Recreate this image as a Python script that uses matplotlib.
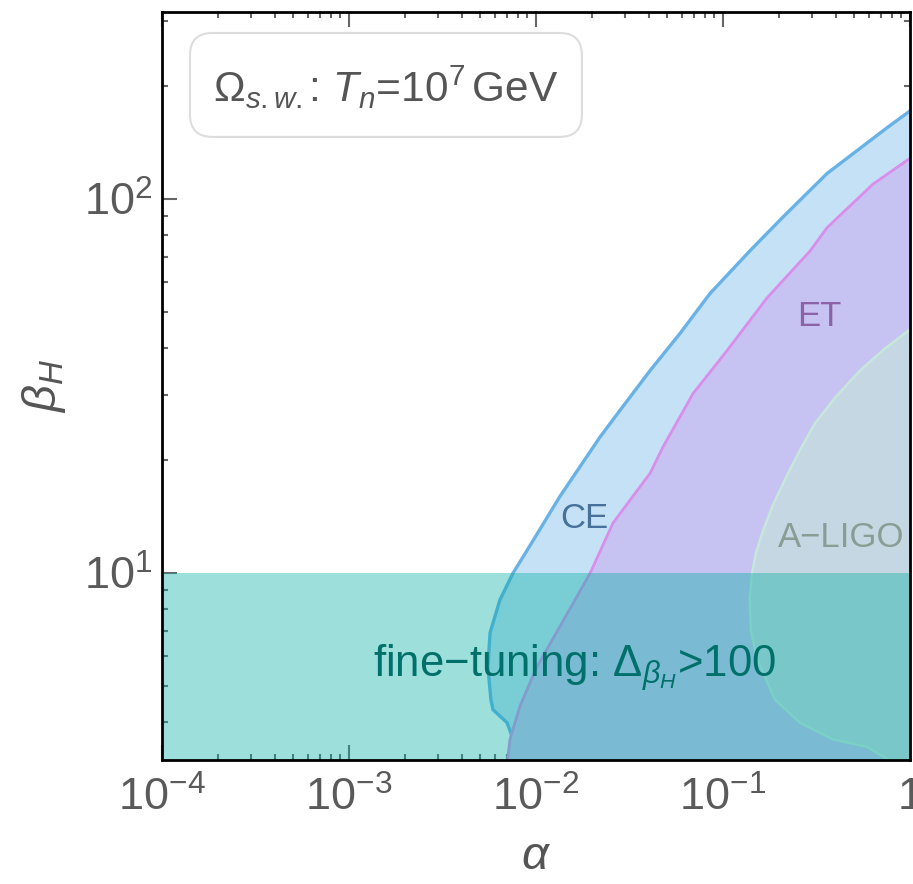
import matplotlib
matplotlib.use("Agg")
import matplotlib.pyplot as plt
from matplotlib.patches import FancyBboxPatch
from matplotlib.ticker import FixedLocator, FixedFormatter, LogLocator, NullFormatter

plt.rcParams['font.family'] = ['Liberation Sans', 'DejaVu Sans']
plt.rcParams['mathtext.fontset'] = 'custom'
plt.rcParams['mathtext.rm'] = 'Liberation Sans'
plt.rcParams['mathtext.it'] = 'Liberation Sans:italic'
plt.rcParams['mathtext.bf'] = 'Liberation Sans:bold'

# detector sensitivity boundaries (alpha, beta_H)
ce_alpha = [1.0, 0.753, 0.36, 0.207, 0.139, 0.085, 0.0589, 0.0408, 0.0281, 0.022,
            0.0134, 0.00964, 0.00754, 0.00641, 0.00568, 0.00553, 0.00574, 0.00589,
            0.0070, 0.00745, 0.00773, 0.0101, 0.0134, 0.0163]
ce_beta = [172, 155, 117, 89, 72.6, 55.8, 43.7, 34.8, 27.2, 23.1,
           16.0, 12.2, 10.0, 8.47, 6.92, 5.61, 4.58, 4.31,
           3.98, 3.66, 3.43, 3.37, 3.21, 3.07]

et_alpha = [1.0, 0.634, 0.36, 0.292, 0.172, 0.105, 0.0692, 0.0477, 0.0408, 0.0258,
            0.0195, 0.0134, 0.0101, 0.0082, 0.00726, 0.0070]
et_beta = [128.5, 109.6, 83.8, 72.6, 54.4, 39.3, 30.2, 21.7, 18.5, 13.6,
           10.0, 7.18, 5.61, 4.40, 3.59, 3.08]

ligo_alpha = [1.0, 0.734, 0.541, 0.397, 0.310, 0.258, 0.217, 0.185, 0.164, 0.150,
              0.143, 0.139, 0.141, 0.150, 0.164, 0.190, 0.258, 0.387, 0.589, 0.718, 0.83]
ligo_beta = [44.8, 39.8, 34.8, 29.4, 25.1, 21.3, 18.0, 15.2, 13.0, 11.3,
             10.0, 8.47, 7.05, 6.04, 5.41, 4.58, 3.98, 3.59, 3.43, 3.23, 3.08]

tuning_beta = 10.0
x_lim = (1e-4, 1.0)
y_lim = (10 ** 0.5, 10 ** 2.5)

x_ticks = [1e-4, 1e-3, 1e-2, 1e-1, 1.0]
x_ticklabels = [r'$10^{-4}$', r'$10^{-3}$', r'$10^{-2}$', r'$10^{-1}$', '1']
y_ticks = [10, 100]
y_ticklabels = [r'$10^{1}$', r'$10^{2}$']

fig = plt.figure(figsize=(9.13, 8.84), dpi=100)
ax = fig.add_axes([162 / 913, 1 - 760 / 884, 748 / 913, 748 / 884])
ax.set_xscale('log')
ax.set_yscale('log')


def region(a, b, fill, edge, lw, z):
    # close the region through the lower right corner
    ax.fill(a + [1.3, 1.3], b + [2.8, b[0]], color=fill, lw=0, zorder=z)
    ax.plot(a, b, color=edge, lw=lw, zorder=z + 0.5, solid_joinstyle='round')


region(ce_alpha, ce_beta, '#c5e1f5', '#68b2e6', 2.4, 1)
region(et_alpha, et_beta, '#c6c3f3', '#d88eea', 2.0, 2)
region(ligo_alpha, ligo_beta, '#c5d7e2', '#c6e8da', 1.8, 3)

ax.axhspan(y_lim[0] * 0.5, tuning_beta, color='#08afa5', alpha=0.4, lw=0, zorder=5)

ax.text(0.001343, 5.28, 'fine\u2212tuning: $\\Delta_{\\beta_H}$>100', color='#00706a',
        fontsize=31.5, ha='left', va='baseline', zorder=6)
ax.text(0.01343, 13.18, 'CE', color='#46719a', fontsize=25, ha='left', va='baseline', zorder=6)
ax.text(0.249, 45.8, 'ET', color='#8c62a6', fontsize=25, ha='left', va='baseline', zorder=6)
ax.text(0.197, 11.73, 'A\u2212LIGO', color='#8a9d95', fontsize=25, ha='left', va='baseline', zorder=6)

box = FancyBboxPatch((0.0374, 0.833), 0.524, 0.139, transform=ax.transAxes,
                     boxstyle='round,pad=0,rounding_size=0.03', fc='white',
                     ec='#dddddd', lw=1.5, zorder=7)
ax.add_patch(box)
ax.text(0.2995, 0.8797, r'$\Omega_{s.w.}$: $T_n$=10$^7\,$GeV', transform=ax.transAxes,
        color='#555555', fontsize=30.5, ha='center', va='baseline', zorder=8)

ax.set_xlim(*x_lim)
ax.set_ylim(*y_lim)
ax.xaxis.set_major_locator(FixedLocator(x_ticks))
ax.xaxis.set_major_formatter(FixedFormatter(x_ticklabels))
ax.yaxis.set_major_locator(FixedLocator(y_ticks))
ax.yaxis.set_major_formatter(FixedFormatter(y_ticklabels))
for axis in (ax.xaxis, ax.yaxis):
    axis.set_minor_locator(LogLocator(base=10, subs=range(2, 10), numticks=20))
    axis.set_minor_formatter(NullFormatter())

ax.tick_params(which='both', direction='in', top=True, right=True, color='#666666',
               width=1.5, labelcolor='#5a5a5a', labelsize=32.5, zorder=10)
ax.tick_params(which='major', length=11)
ax.tick_params(which='minor', length=4.5)
ax.tick_params(axis='x', pad=12)
ax.tick_params(axis='y', pad=7)
for s in ax.spines.values():
    s.set_linewidth(2)
    s.set_color('black')
    s.set_zorder(11)

ax.set_xlabel(r'$\alpha$', fontsize=34, color='#555555', labelpad=11)
ax.set_ylabel(r'$\beta_H$', fontsize=34, color='#555555', labelpad=11)

fig.savefig('out.png', dpi=100)
